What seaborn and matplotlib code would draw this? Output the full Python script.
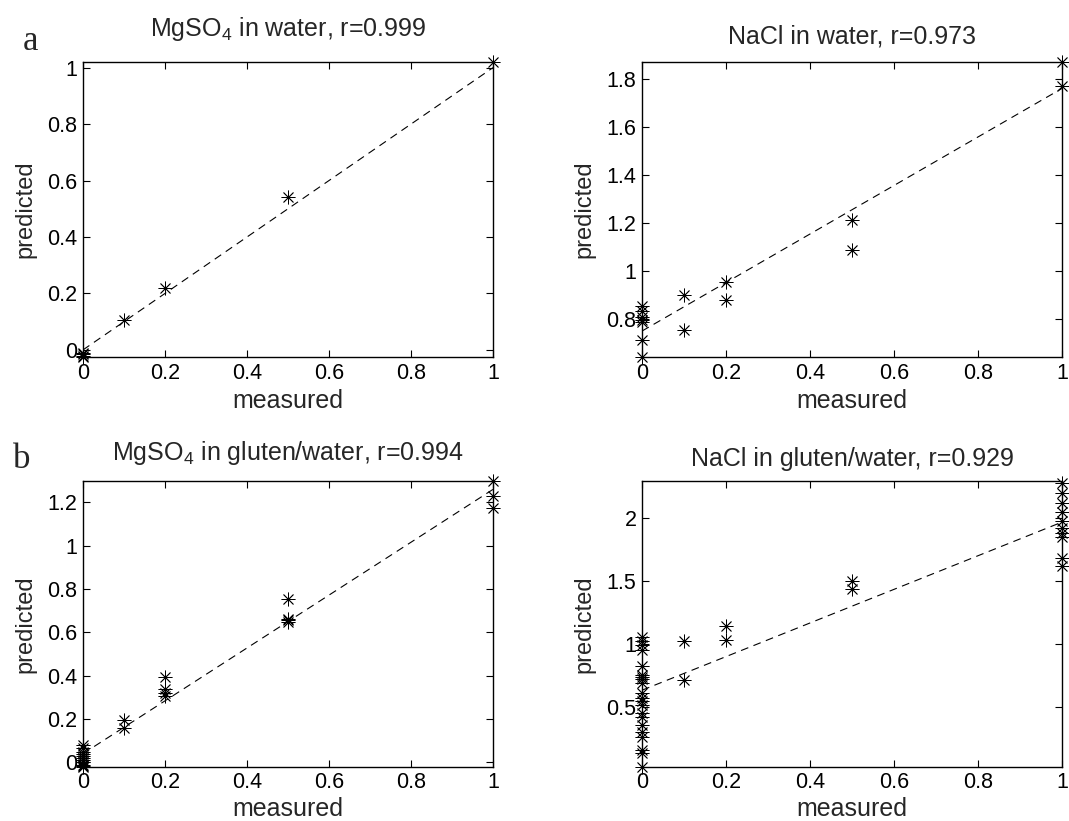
import numpy as np
import pandas as pd
import matplotlib
matplotlib.use("Agg")
import matplotlib.pyplot as plt
import seaborn as sns
from matplotlib.ticker import FuncFormatter

sns.set_style("ticks")
plt.rcParams['font.family'] = ['Liberation Sans', 'DejaVu Sans']
plt.rcParams['mathtext.fontset'] = 'custom'
plt.rcParams['mathtext.rm'] = 'Liberation Sans'
plt.rcParams['mathtext.it'] = 'Liberation Sans'

# ---- data: (a) MgSO4 in water ----
mg_w_meas = [0, 0, 0, 0, 0.1, 0.2, 0.5, 1.0]
mg_w_pred = [-0.02, -0.015, -0.025, -0.01, 0.105, 0.22, 0.54, 1.02]
mg_w_fit = [0.0, 1.0]

# ---- (a) NaCl in water ----
na_w_meas = [0, 0, 0, 0, 0, 0, 0, 0.1, 0.1, 0.2, 0.2, 0.5, 0.5, 1.0, 1.0]
na_w_pred = [0.854, 0.833, 0.808, 0.797, 0.789, 0.712, 0.642,
             0.899, 0.754, 0.954, 0.879, 1.211, 1.086, 1.87, 1.77]
na_w_fit = [0.75, 1.76]

# ---- (b) MgSO4 in gluten/water ----
mg_g_meas = [0] * 11 + [0.1, 0.1, 0.2, 0.2, 0.2, 0.2, 0.5, 0.5, 0.5, 0.5, 1.0, 1.0, 1.0]
mg_g_pred = [0.08, 0.065, 0.05, 0.04, 0.03, 0.02, 0.01, 0.0, -0.01, -0.015, -0.02,
             0.195, 0.157, 0.395, 0.337, 0.318, 0.307, 0.752, 0.662, 0.655, 0.647,
             1.30, 1.228, 1.172]
mg_g_fit = [0.04, 1.26]

# ---- (b) NaCl in gluten/water ----
na_g_meas = [0] * 21 + [0.1, 0.1, 0.2, 0.2, 0.5, 0.5] + [1.0] * 10
na_g_pred = [1.057, 1.025, 0.99, 0.95, 0.82, 0.752, 0.739, 0.72, 0.69, 0.61, 0.57,
             0.54, 0.51, 0.45, 0.42, 0.355, 0.30, 0.26, 0.155, 0.13, 0.02,
             1.02, 0.715, 1.14, 1.03, 1.50, 1.44,
             2.28, 2.20, 2.12, 2.05, 1.98, 1.92, 1.88, 1.85, 1.68, 1.62]
na_g_fit = [0.63, 1.97]

fit_x = [0.0, 1.0]
x_ticks = [0, 0.2, 0.4, 0.6, 0.8, 1.0]

panels = [
    dict(meas=mg_w_meas, pred=mg_w_pred, fit=mg_w_fit,
         title=r'MgSO$_4$ in water, r=0.999', ylim=(-0.025, 1.02),
         yticks=[0, 0.2, 0.4, 0.6, 0.8, 1.0], tpad=13.5, xpad=4,
         rect=[0.0776, 0.5652, 0.3836, 0.3593]),
    dict(meas=na_w_meas, pred=na_w_pred, fit=na_w_fit,
         title='NaCl in water, r=0.973', ylim=(0.642, 1.87),
         yticks=[0.8, 1.0, 1.2, 1.4, 1.6, 1.8], tpad=10, xpad=4,
         rect=[0.6006, 0.5652, 0.3929, 0.3593]),
    dict(meas=mg_g_meas, pred=mg_g_pred, fit=mg_g_fit,
         title=r'MgSO$_4$ in gluten/water, r=0.994', ylim=(-0.02, 1.30),
         yticks=[0, 0.2, 0.4, 0.6, 0.8, 1.0, 1.2], tpad=10, xpad=3,
         rect=[0.0776, 0.0661, 0.3836, 0.3484]),
    dict(meas=na_g_meas, pred=na_g_pred, fit=na_g_fit,
         title='NaCl in gluten/water, r=0.929', ylim=(0.02, 2.30),
         yticks=[0.5, 1.0, 1.5, 2.0], tpad=7, xpad=3,
         rect=[0.6006, 0.0661, 0.3929, 0.3484]),
]

fmt = FuncFormatter(lambda v, p: f'{v:g}')

fig = plt.figure(figsize=(10.69, 8.21), dpi=100)
for pnl in panels:
    ax = fig.add_axes(pnl['rect'])
    df = pd.DataFrame({'measured': pnl['meas'], 'predicted': pnl['pred']})
    sns.lineplot(x=fit_x, y=pnl['fit'], ax=ax, color='black', linewidth=0.8,
                 linestyle=(0, (7, 5)))
    sns.scatterplot(data=df, x='measured', y='predicted', ax=ax,
                    marker=(8, 2, 0), color='black', s=90, linewidth=0.6,
                    clip_on=False, zorder=3)
    ax.set_xlim(0, 1)
    ax.set_ylim(*pnl['ylim'])
    ax.set_xticks(x_ticks)
    ax.set_yticks(pnl['yticks'])
    ax.xaxis.set_major_formatter(fmt)
    ax.yaxis.set_major_formatter(fmt)
    ax.tick_params(direction='in', top=True, right=True, length=5, width=0.8,
                   labelsize=15.5, colors='black', pad=4)
    for sp in ax.spines.values():
        sp.set_visible(True)
        sp.set_linewidth(1.0)
        sp.set_color('black')
    ax.set_xlabel('measured', fontsize=18, labelpad=pnl['xpad'])
    ax.set_ylabel('predicted', fontsize=17, labelpad=8)
    ax.set_title(pnl['title'], fontsize=18, pad=pnl['tpad'], va='bottom')

fig.text(0.021, 0.939, 'a', fontsize=25, family='Liberation Serif')
fig.text(0.012, 0.430, 'b', fontsize=25, family='Liberation Serif')

fig.savefig('out.png', dpi=100)
